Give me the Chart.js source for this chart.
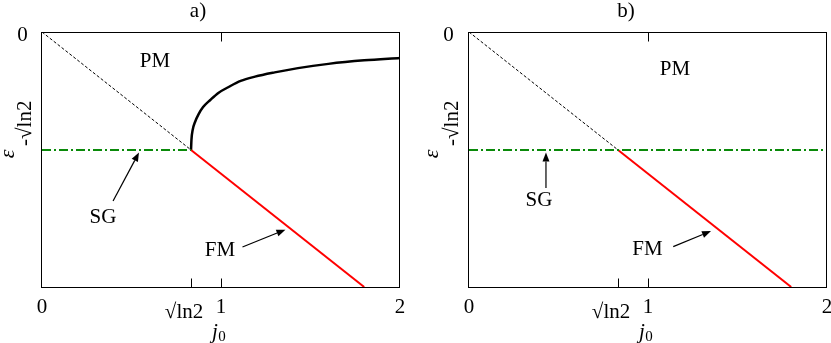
<!DOCTYPE html>
<html><head><meta charset="utf-8">
<script src="https://cdn.jsdelivr.net/npm/chart.js@4/dist/chart.umd.min.js"></script>
<style>
html,body{margin:0;padding:0;background:#fff;}
#wrap{position:relative;width:831px;height:343px;overflow:hidden;background:#fff;}
canvas{position:absolute;top:0;}
#ca{left:0;} #cb{left:420px;}
</style></head><body>
<div id="wrap"><canvas id="ca" width="420" height="343"></canvas><canvas id="cb" width="411" height="343"></canvas></div>
<script>
// ---- data ----
const SQRT_LN2 = 0.8326;
const xTickValues = [0, SQRT_LN2, 1, 2];
const xTickLabels = ['0', '√ln2', '1', '2'];
const yTickValues = [0, -SQRT_LN2];
const yTickLabels = ['0', '-√ln2'];
const xRange = [0, 2];
const yRange = [-1.8, 0];
// PM / SG boundary (dashed, ε = -j0)
const pmDashX = [0, SQRT_LN2];
const pmDashY = [0, -SQRT_LN2];
// FM boundary (red)
const fmX = [SQRT_LN2, 1.8];
const fmY = [-SQRT_LN2, -1.8];
// SG line (green dash-dot)
const sgAX = [0, SQRT_LN2];
const sgBX = [0, 2];
const sgY = [-SQRT_LN2, -SQRT_LN2];
// PM boundary curve in panel a)
const curveAX = [0.8326, 0.835, 0.842, 0.855, 0.875, 0.90, 0.94, 0.985, 1.04, 1.11, 1.19, 1.30, 1.43, 1.60, 1.80, 2.00];
const curveAY = [-0.8326, -0.76, -0.69, -0.635, -0.58, -0.53, -0.48, -0.43, -0.39, -0.345, -0.315, -0.285, -0.255, -0.225, -0.20, -0.183];

const pts = (xs, ys) => xs.map((x, i) => ({x: x, y: ys[i]}));

const SERIF = '"Liberation Serif", "DejaVu Serif", serif';
const FS = 21;

function lineDs(data, color, width, dash, smooth) {
  return {
    data: data, borderColor: color, borderWidth: width, borderDash: dash || [],
    pointRadius: 0, fill: false, tension: smooth ? 0.4 : 0,
    cubicInterpolationMode: smooth ? 'monotone' : 'default'
  };
}

function arrow(ctx, x1, y1, x2, y2) {
  ctx.save();
  ctx.strokeStyle = '#000'; ctx.fillStyle = '#000'; ctx.lineWidth = 1.2;
  const a = Math.atan2(y2 - y1, x2 - x1);
  const hl = 9, hw = 3.5;
  const bx = x2 - hl * Math.cos(a), by = y2 - hl * Math.sin(a);
  ctx.beginPath(); ctx.moveTo(x1, y1); ctx.lineTo(bx, by); ctx.stroke();
  ctx.beginPath();
  ctx.moveTo(x2, y2);
  ctx.lineTo(bx + hw * Math.sin(a), by - hw * Math.cos(a));
  ctx.lineTo(bx - hw * Math.sin(a), by + hw * Math.cos(a));
  ctx.closePath(); ctx.fill();
  ctx.restore();
}

const decorPlugin = {
  id: 'decor',
  afterDraw(chart, args, o) {
    const ctx = chart.ctx, xs = chart.scales.x, ys = chart.scales.y, ca = chart.chartArea;
    const L = Math.round(ca.left) - 0.5, R = Math.round(ca.right) - 0.5;
    const T = Math.round(ca.top) + 0.5, B = Math.round(ca.bottom) + 0.5;
    ctx.save();
    // frame
    ctx.strokeStyle = '#000'; ctx.lineWidth = 1;
    ctx.strokeRect(L, T, R - L, B - T);
    // inward tick marks
    const tl = 9;
    ctx.beginPath();
    [SQRT_LN2, 1].forEach(v => { const px = Math.round(xs.getPixelForValue(v)) + 0.5; ctx.moveTo(px, B); ctx.lineTo(px, B - tl); });
    { const px = Math.round(xs.getPixelForValue(1)) + 0.5; ctx.moveTo(px, T); ctx.lineTo(px, T + tl); }
    ctx.stroke();
    // x tick labels
    ctx.fillStyle = '#000';
    ctx.font = FS + 'px ' + SERIF;
    ctx.textAlign = 'center'; ctx.textBaseline = 'alphabetic';
    xTickValues.forEach((v, i) => {
      let px = xs.getPixelForValue(v), py = 313;
      if (xTickLabels[i] === '√ln2') { px -= 7; py = 318; }
      ctx.fillText(xTickLabels[i], px, py);
    });
    // x axis title j0
    const jx = xs.getPixelForValue(1) - 9;
    ctx.font = 'italic ' + FS + 'px ' + SERIF; ctx.textAlign = 'left';
    ctx.fillText('j', jx, 338);
    const jw = ctx.measureText('j').width;
    ctx.font = '15px ' + SERIF;
    ctx.fillText('0', jx + jw + 0.5, 341);
    // y tick labels
    ctx.font = FS + 'px ' + SERIF; ctx.textAlign = 'center';
    ctx.fillText(yTickLabels[0], L + o.y0dx, ys.getPixelForValue(yTickValues[0]) + 9);
    ctx.save();
    ctx.translate(L + o.ylabdx, ys.getPixelForValue(yTickValues[1]) - 4);
    ctx.rotate(-Math.PI / 2);
    ctx.textAlign = 'left'; ctx.textBaseline = 'middle';
    ctx.fillText(yTickLabels[1], 0, 0);
    ctx.restore();
    // y axis title ε
    ctx.save();
    ctx.translate(L + o.epsdx, ys.getPixelForValue(-SQRT_LN2) + 4);
    ctx.rotate(-Math.PI / 2);
    ctx.font = 'italic 22px ' + SERIF; ctx.textAlign = 'center'; ctx.textBaseline = 'middle';
    ctx.fillText('ε', 0, 0);
    ctx.restore();
    // panel title
    ctx.font = FS + 'px ' + SERIF; ctx.textAlign = 'center'; ctx.textBaseline = 'middle';
    ctx.fillText(o.title, (ca.left + ca.right) / 2 + o.titledx, 11);
    // region labels
    o.labels.forEach(l => {
      ctx.fillText(l.t, xs.getPixelForValue(l.x), ys.getPixelForValue(l.y));
    });
    // arrows
    o.arrows.forEach(a => {
      arrow(ctx, xs.getPixelForValue(a[0]), ys.getPixelForValue(a[1]), xs.getPixelForValue(a[2]), ys.getPixelForValue(a[3]));
    });
    ctx.restore();
  }
};

function makeChart(id, datasets, padding, decor) {
  return new Chart(document.getElementById(id), {
    type: 'line',
    data: { datasets: datasets },
    options: {
      responsive: false, animation: false, devicePixelRatio: 1,
      layout: { padding: padding },
      plugins: { legend: { display: false }, tooltip: { enabled: false }, title: { display: false }, decor: decor },
      scales: {
        x: { type: 'linear', min: xRange[0], max: xRange[1], display: false },
        y: { type: 'linear', min: yRange[0], max: yRange[1], display: false }
      }
    },
    plugins: [decorPlugin]
  });
}

makeChart('ca', [
  lineDs(pts(pmDashX, pmDashY), '#000', 1, [3, 2]),
  lineDs(pts(sgAX, sgY), '#0a8a0a', 2, [9, 3, 2, 3]),
  lineDs(pts(fmX, fmY), '#ff0000', 2),
  lineDs(pts(curveAX, curveAY), '#000', 2.5, [], true)
], { left: 42, top: 32, right: 20, bottom: 56 }, {
  title: 'a)', titledx: -23, y0dx: -19, ylabdx: -16, epsdx: -33,
  labels: [{t: 'PM', x: 0.631, y: -0.21}, {t: 'SG', x: 0.341, y: -1.306}, {t: 'FM', x: 0.994, y: -1.539}],
  arrows: [[0.397, -1.193, 0.542, -0.85], [1.12, -1.518, 1.36, -1.395]]
});

makeChart('cb', [
  lineDs(pts(pmDashX, pmDashY), '#000', 1, [3, 2]),
  lineDs(pts(sgBX, sgY), '#0a8a0a', 2, [9, 3, 2, 3]),
  lineDs(pts(fmX, fmY), '#ff0000', 2)
], { left: 49, top: 32, right: 4, bottom: 56 }, {
  title: 'b)', titledx: -22, y0dx: -20, ylabdx: -16, epsdx: -36,
  labels: [{t: 'PM', x: 1.151, y: -0.268}, {t: 'SG', x: 0.391, y: -1.186}, {t: 'FM', x: 0.997, y: -1.535}],
  arrows: [[0.43, -1.101, 0.43, -0.85], [1.141, -1.515, 1.352, -1.405]]
});
</script>
</body></html>
